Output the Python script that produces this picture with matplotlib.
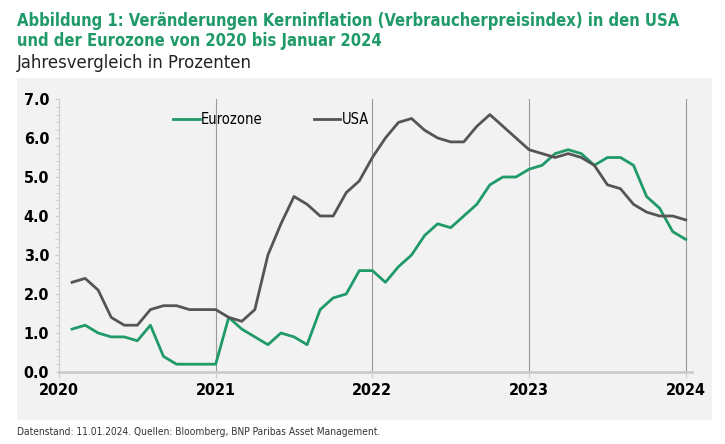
import matplotlib.pyplot as plt
from matplotlib.ticker import MultipleLocator

# monthly core inflation, Jan 2020 .. Dec 2023 (yoy %)
eurozone = [1.1, 1.2, 1.0, 0.9, 0.9, 0.8, 1.2, 0.4, 0.2, 0.2, 0.2, 0.2,
            1.4, 1.1, 0.9, 0.7, 1.0, 0.9, 0.7, 1.6, 1.9, 2.0, 2.6, 2.6,
            2.3, 2.7, 3.0, 3.5, 3.8, 3.7, 4.0, 4.3, 4.8, 5.0, 5.0, 5.2,
            5.3, 5.6, 5.7, 5.6, 5.3, 5.5, 5.5, 5.3, 4.5, 4.2, 3.6, 3.4]
usa = [2.3, 2.4, 2.1, 1.4, 1.2, 1.2, 1.6, 1.7, 1.7, 1.6, 1.6, 1.6,
       1.4, 1.3, 1.6, 3.0, 3.8, 4.5, 4.3, 4.0, 4.0, 4.6, 4.9, 5.5,
       6.0, 6.4, 6.5, 6.2, 6.0, 5.9, 5.9, 6.3, 6.6, 6.3, 6.0, 5.7,
       5.6, 5.5, 5.6, 5.5, 5.3, 4.8, 4.7, 4.3, 4.1, 4.0, 4.0, 3.9]
years = [2020, 2021, 2022, 2023, 2024]
x = [2020 + (i + 1) / 12 for i in range(len(usa))]

plt.rcParams["font.stretch"] = "condensed"
green = "#1f9a68"
fig = plt.figure(figsize=(7.25, 4.44), dpi=100)

# grey panel behind the chart
bg = fig.add_axes([17 / 725, 1 - 420 / 444, 695 / 725, 342 / 444], zorder=0)
bg.set_facecolor("#f2f2f2")
bg.set_xticks([])
bg.set_yticks([])
for s in bg.spines.values():
    s.set_visible(False)

ax = fig.add_axes([59 / 725, 1 - 372 / 444, 633 / 725, 273 / 444], zorder=1)
ax.set_facecolor("none")
ax.plot(x, eurozone, color=green, lw=2, label="Eurozone")
ax.plot(x, usa, color="#555555", lw=2, label="USA")
for yr in years[1:]:
    ax.axvline(yr, color="#999999", lw=0.8, zorder=0)

ax.set_xlim(2020, 2024.04)
ax.set_ylim(0, 7)
ax.set_xticks(years)
ax.set_xticklabels([str(y) for y in years], fontsize=11.5, fontweight="bold")
ax.yaxis.set_major_locator(MultipleLocator(1))
ax.yaxis.set_minor_locator(MultipleLocator(0.2))
ax.set_yticklabels([f"{v:.1f}" for v in ax.get_yticks()], fontsize=11.5, fontweight="bold")
ax.tick_params(axis="y", which="both", color="#cccccc", length=3, pad=4)
ax.tick_params(axis="x", length=4, color="#cccccc", pad=4)
for s in ["top", "right"]:
    ax.spines[s].set_visible(False)
ax.spines["left"].set_color("#cccccc")
ax.spines["bottom"].set_color("#cccccc")
ax.spines["bottom"].set_linewidth(2)

ax.legend(loc="upper left", bbox_to_anchor=(0.16, 1.0), ncol=2, frameon=False,
          fontsize=10.5, handlelength=1.8, handletextpad=0.1, columnspacing=3.5)

fig.text(17 / 725, 1 - 31 / 444, "Abbildung 1: Veränderungen Kerninflation (Verbraucherpreisindex) in den USA\n"
         "und der Eurozone von 2020 bis Januar 2024", color=green, fontsize=11.9,
         fontweight="bold", va="center", linespacing=1.15)
fig.text(17 / 725, 1 - 63 / 444, "Jahresvergleich in Prozenten", fontsize=13.2, va="center", color="#222222")
fig.text(17 / 725, 1 - 432 / 444, "Datenstand: 11.01.2024. Quellen: Bloomberg, BNP Paribas Asset Management.",
         fontsize=7.3, va="center", color="#333333")

fig.savefig("out.png", dpi=100)
